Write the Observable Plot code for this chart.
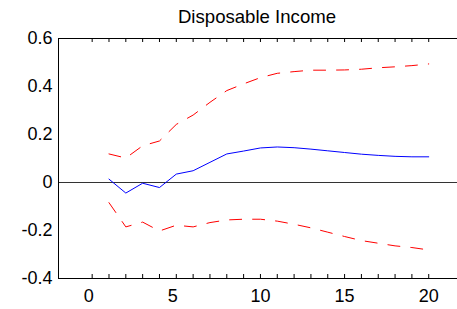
<!DOCTYPE html>
<html>
<head>
<meta charset="utf-8">
<script src="https://cdn.jsdelivr.net/npm/d3@7"></script>
<script src="https://cdn.jsdelivr.net/npm/@observablehq/plot@0.6"></script>
<style>
  html, body { margin: 0; padding: 0; background: #fff; }
  svg { display: block; }
</style>
</head>
<body>
<div id="chart"></div>
<script>
const title = "Disposable Income";
const steps = [1, 2, 3, 4, 5, 6, 7, 8, 9, 10, 11, 12, 13, 14, 15, 16, 17, 18, 19, 20];
const response = [0.014, -0.044, -0.003, -0.021, 0.035, 0.049, 0.084, 0.119, 0.131, 0.144, 0.148, 0.145, 0.139, 0.132, 0.125, 0.118, 0.113, 0.109, 0.107, 0.107];
const upperBand = [0.119, 0.102, 0.153, 0.173, 0.242, 0.281, 0.334, 0.383, 0.411, 0.437, 0.455, 0.462, 0.468, 0.468, 0.469, 0.472, 0.478, 0.482, 0.487, 0.494];
const lowerBand = [-0.084, -0.185, -0.165, -0.202, -0.178, -0.185, -0.167, -0.156, -0.153, -0.153, -0.161, -0.174, -0.189, -0.207, -0.225, -0.242, -0.253, -0.264, -0.271, -0.281];
const xTickLabels = [0, 5, 10, 15, 20];
const xMinorTicks = [0, 1, 2, 3, 4, 5, 6, 7, 8, 9, 10, 11, 12, 13, 14, 15, 16, 17, 18, 19, 20];
const yTickValues = [-0.4, -0.2, 0, 0.2, 0.4, 0.6];
const yTickLabels = ["-0.4", "-0.2", "0", "0.2", "0.4", "0.6"];

const rows = steps.map((s, i) => ({s, r: response[i], u: upperBand[i], l: lowerBand[i]}));
const yTicks = yTickValues.map((v, i) => ({v, label: yTickLabels[i]}));
const font = "Liberation Sans, Arial, Helvetica, sans-serif";
const fs = 18;

const chart = Plot.plot({
  width: 457,
  height: 309,
  marginLeft: 58,
  marginRight: 0,
  marginTop: 38,
  marginBottom: 31,
  style: {fontFamily: font, background: "#fff", overflow: "visible"},
  x: {domain: [-2, 21.71], axis: null},
  y: {domain: [-0.4, 0.6], axis: null},
  marks: [
    Plot.ruleY([0], {stroke: "#333", strokeWidth: 1}),
    Plot.line(rows, {x: "s", y: "u", stroke: "#ff0000", strokeWidth: 1, strokeDasharray: "12,11"}),
    Plot.line(rows, {x: "s", y: "l", stroke: "#ff0000", strokeWidth: 1, strokeDasharray: "12,11"}),
    Plot.line(rows, {x: "s", y: "r", stroke: "#0000ff", strokeWidth: 1}),
    Plot.ruleY([-0.4, 0.6], {stroke: "#000", strokeWidth: 1}),
    Plot.ruleX([-2], {stroke: "#000", strokeWidth: 1}),
    Plot.tickX(xMinorTicks, {x: d => d, stroke: "#000", insetTop: 236}),
    Plot.tickX(xMinorTicks, {x: d => d, stroke: "#000", insetBottom: 236}),
    Plot.text(xTickLabels.filter(d => d < 10), {x: d => d, text: d => String(d), frameAnchor: "bottom", dy: 18, dx: -3.5, fontSize: fs, fill: "#000", lineAnchor: "middle"}),
    Plot.text(xTickLabels.filter(d => d >= 10), {x: d => d, text: d => String(d), frameAnchor: "bottom", dy: 18, fontSize: fs, fill: "#000", lineAnchor: "middle"}),
    Plot.text(yTicks, {y: "v", text: "label", frameAnchor: "left", dx: -6, textAnchor: "end", fontSize: fs, fill: "#000"}),
    Plot.text([title], {text: d => d, frameAnchor: "top", dy: -21, dx: -1, fontSize: 18.6, fill: "#000", lineAnchor: "middle"})
  ]
});
document.getElementById("chart").appendChild(chart);
</script>
</body>
</html>
